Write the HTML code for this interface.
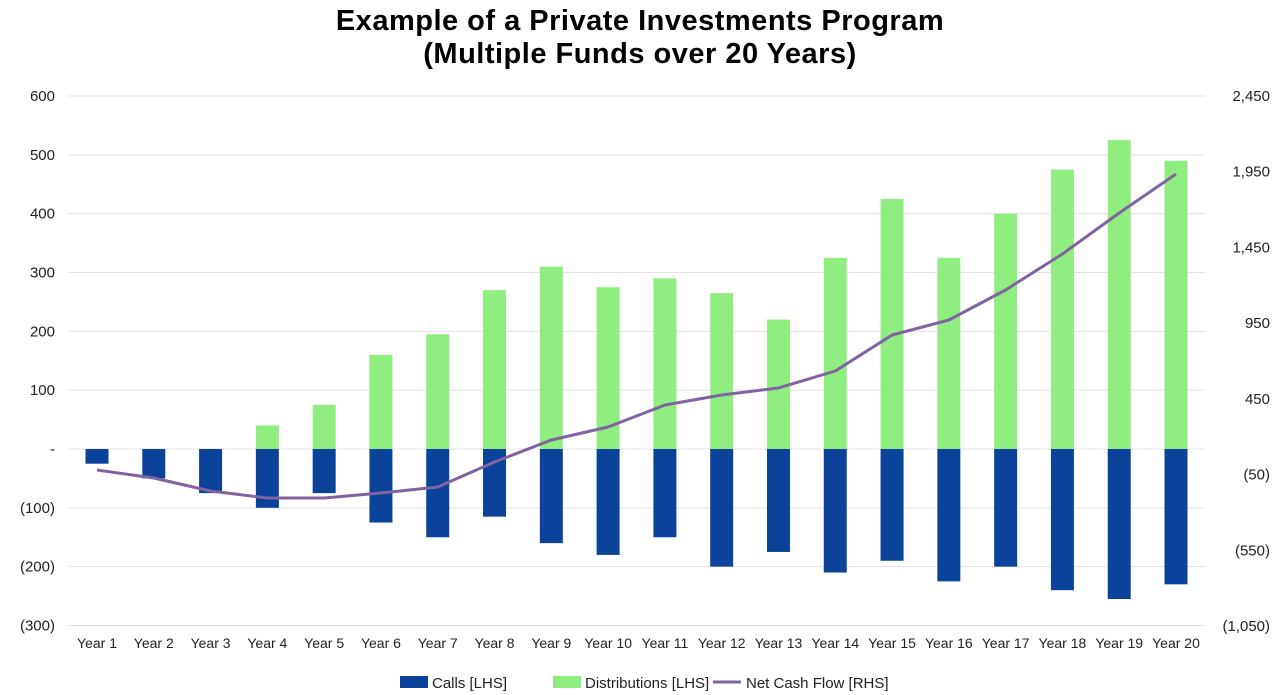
<!DOCTYPE html>
<html><head><meta charset="utf-8"><style>
html,body{margin:0;padding:0;background:#fff;}
svg{display:block;font-family:"Liberation Sans",sans-serif;}
</style></head><body>
<svg width="1280" height="695" viewBox="0 0 1280 695" xmlns="http://www.w3.org/2000/svg">
<text x="640" y="30" text-anchor="middle" font-size="29" font-weight="bold" letter-spacing="0.5" fill="#000">Example of a Private Investments Program</text>
<text x="640" y="63" text-anchor="middle" font-size="29" font-weight="bold" letter-spacing="0.5" fill="#000">(Multiple Funds over 20 Years)</text>
<g id="grid" stroke="#e3e3e3" stroke-width="1"></g>
<g id="bars"></g>
<g id="labels" font-size="15" fill="#222"></g>
<polyline id="line" fill="none" stroke="#8064a2" stroke-width="3" stroke-linejoin="round"></polyline>
<g font-size="15" fill="#222">
<rect x="400" y="676" width="28" height="12" fill="#0a4399"/><text x="432" y="688">Calls [LHS]</text>
<rect x="553" y="676" width="28" height="12" fill="#90ee80"/><text x="585" y="688">Distributions [LHS]</text>
<line x1="713" y1="682" x2="741" y2="682" stroke="#8064a2" stroke-width="3"/><text x="746" y="688">Net Cash Flow [RHS]</text>
</g>
</svg>
<script>
var ns="http://www.w3.org/2000/svg";
function el(t,a,p,txt){var e=document.createElementNS(ns,t);for(var k in a)e.setAttribute(k,a[k]);if(txt!=null)e.textContent=txt;document.getElementById(p).appendChild(e);return e;}
function yL(v){return 449-v*0.5883;}
var leftT=[600,500,400,300,200,100,0,-100,-200,-300];
var leftL=["600","500","400","300","200","100","-","(100)","(200)","(300)"];
leftT.forEach(function(v,i){var y=yL(v);el("line",{x1:68,x2:1205,y1:y,y2:y},"grid");
el("text",{x:55,y:y+5,"text-anchor":"end"},"labels",leftL[i]);});
var rightL=["2,450","1,950","1,450","950","450","(50)","(550)","(1,050)"];
rightL.forEach(function(s,i){var y=96+i*75.71;el("text",{x:1270,y:y+5,"text-anchor":"end"},"labels",s);});
var dist=[0,0,0,40,75,160,195,270,310,275,290,265,220,325,425,325,400,475,525,490];
var calls=[-25,-50,-75,-100,-75,-125,-150,-115,-160,-180,-150,-200,-175,-210,-190,-225,-200,-240,-255,-230];
var ly=[470,478,491,498,498,493,487,462,440,427,405,395,388,371,335,320,290,254,213,174];
var pts=[];
for(var i=0;i<20;i++){var cx=97+i*56.79;
if(dist[i]>0)el("rect",{x:cx-11.5,y:yL(dist[i]),width:23,height:dist[i]*0.5883,fill:"#90ee80"},"bars");
el("rect",{x:cx-11.5,y:449,width:23,height:-calls[i]*0.5883,fill:"#0a4399"},"bars");
el("text",{x:cx,y:648,"text-anchor":"middle","font-size":"14"},"labels","Year "+(i+1));
pts.push(cx.toFixed(1)+","+ly[i]);}
document.getElementById("line").setAttribute("points",pts.join(" "));
</script>
</body></html>
